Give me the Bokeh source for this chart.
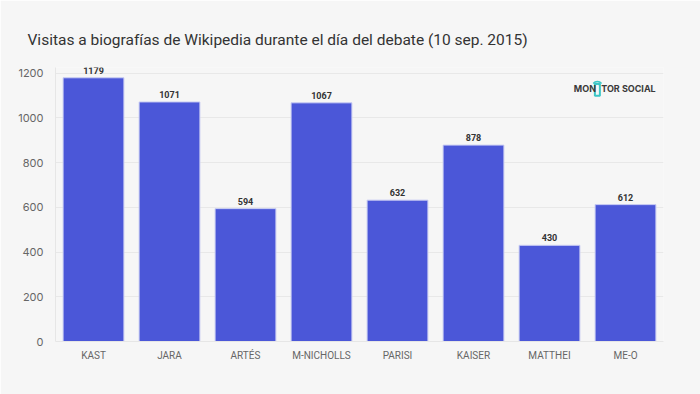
from bokeh.plotting import figure
from bokeh.models import ColumnDataSource, Range1d, FixedTicker, LabelSet, Label
from bokeh.core.properties import value
from bokeh.embed import file_html
from bokeh.resources import INLINE

candidates = ["KAST", "JARA", "ARTÉS", "M-NICHOLLS", "PARISI", "KAISER", "MATTHEI", "ME-O"]
visits = [1179, 1071, 594, 1067, 632, 878, 430, 612]
y_ticks = [0, 200, 400, 600, 800, 1000, 1200]
title_text = "Visitas a biografías de Wikipedia durante el día del debate (10 sep. 2015)"

BG = "#f6f6f6"
src = ColumnDataSource(dict(x=candidates, top=visits, lab=[str(v) for v in visits]))

p = figure(x_range=candidates, y_range=Range1d(0, 1225),
           frame_width=608, frame_height=274,
           min_border_left=55, min_border_right=37, min_border_top=67, min_border_bottom=53,
           output_backend="svg", toolbar_location=None,
           background_fill_color=BG, border_fill_color=BG, outline_line_color=None)

p.title.text = title_text
p.title.text_font = "Roboto"
p.title.text_font_size = "15.5px"
p.title.text_font_style = "normal"
p.title.text_color = "#333333"
p.title.align = "left"
p.title.offset = -28
p.title.padding = (0, 0, 0, 14)

p.vbar(x="x", top="top", width=0.8, source=src, fill_color="#4b57d8",
       line_color="#c9cdf3", line_width=1)

labels = LabelSet(x="x", y="top", text="lab", source=src, text_align="center",
                  text_baseline="bottom", y_offset=4, text_font_size="9px",
                  text_font_style="bold", text_color="#333333",
                  text_font=value("Roboto"))
p.add_layout(labels)

# logo
p.add_layout(Label(x=6.82, y=1130, text="MON", text_font_size="9px", text_font_style="bold",
                   text_color="#3a3a3a", text_font="Inter", text_baseline="middle"))
p.add_layout(Label(x=7.18, y=1130, text="TOR SOCIAL", text_font_size="9px", text_font_style="bold",
                   text_color="#3a3a3a", text_font="Inter", text_baseline="middle"))
p.rect(x=[7.13], y=[1126], width=5, height=12, width_units="screen", height_units="screen",
       fill_color=None, line_color="#3cc6c6", line_width=2)
p.arc(x=[7.13], y=[1138], radius=[3], radius_units="screen", start_angle=0.6, end_angle=2.54,
      line_color="#3cc6c6", line_width=1.5)
p.arc(x=[7.13], y=[1138], radius=[5.5], radius_units="screen", start_angle=0.7, end_angle=2.44,
      line_color="#3cc6c6", line_width=1.5)

p.xgrid.grid_line_color = None
p.ygrid.grid_line_color = "#e8e8e8"
p.ygrid.ticker = FixedTicker(ticks=y_ticks)
p.yaxis.ticker = FixedTicker(ticks=y_ticks)

for ax in (p.xaxis[0], p.yaxis[0]):
    ax.axis_line_color = "#e6e6e6"
    ax.major_tick_line_color = None
    ax.minor_tick_line_color = None
    ax.major_label_text_color = "#666666"

p.yaxis.major_label_text_font = "Inter"
p.yaxis.major_label_text_font_size = "11px"
p.yaxis.major_label_standoff = 6
p.xaxis.major_label_text_font = "Roboto"
p.xaxis.major_label_text_font_size = "10px"
p.xaxis.major_label_standoff = 2

open("out.html", "w").write(file_html(p, INLINE))
